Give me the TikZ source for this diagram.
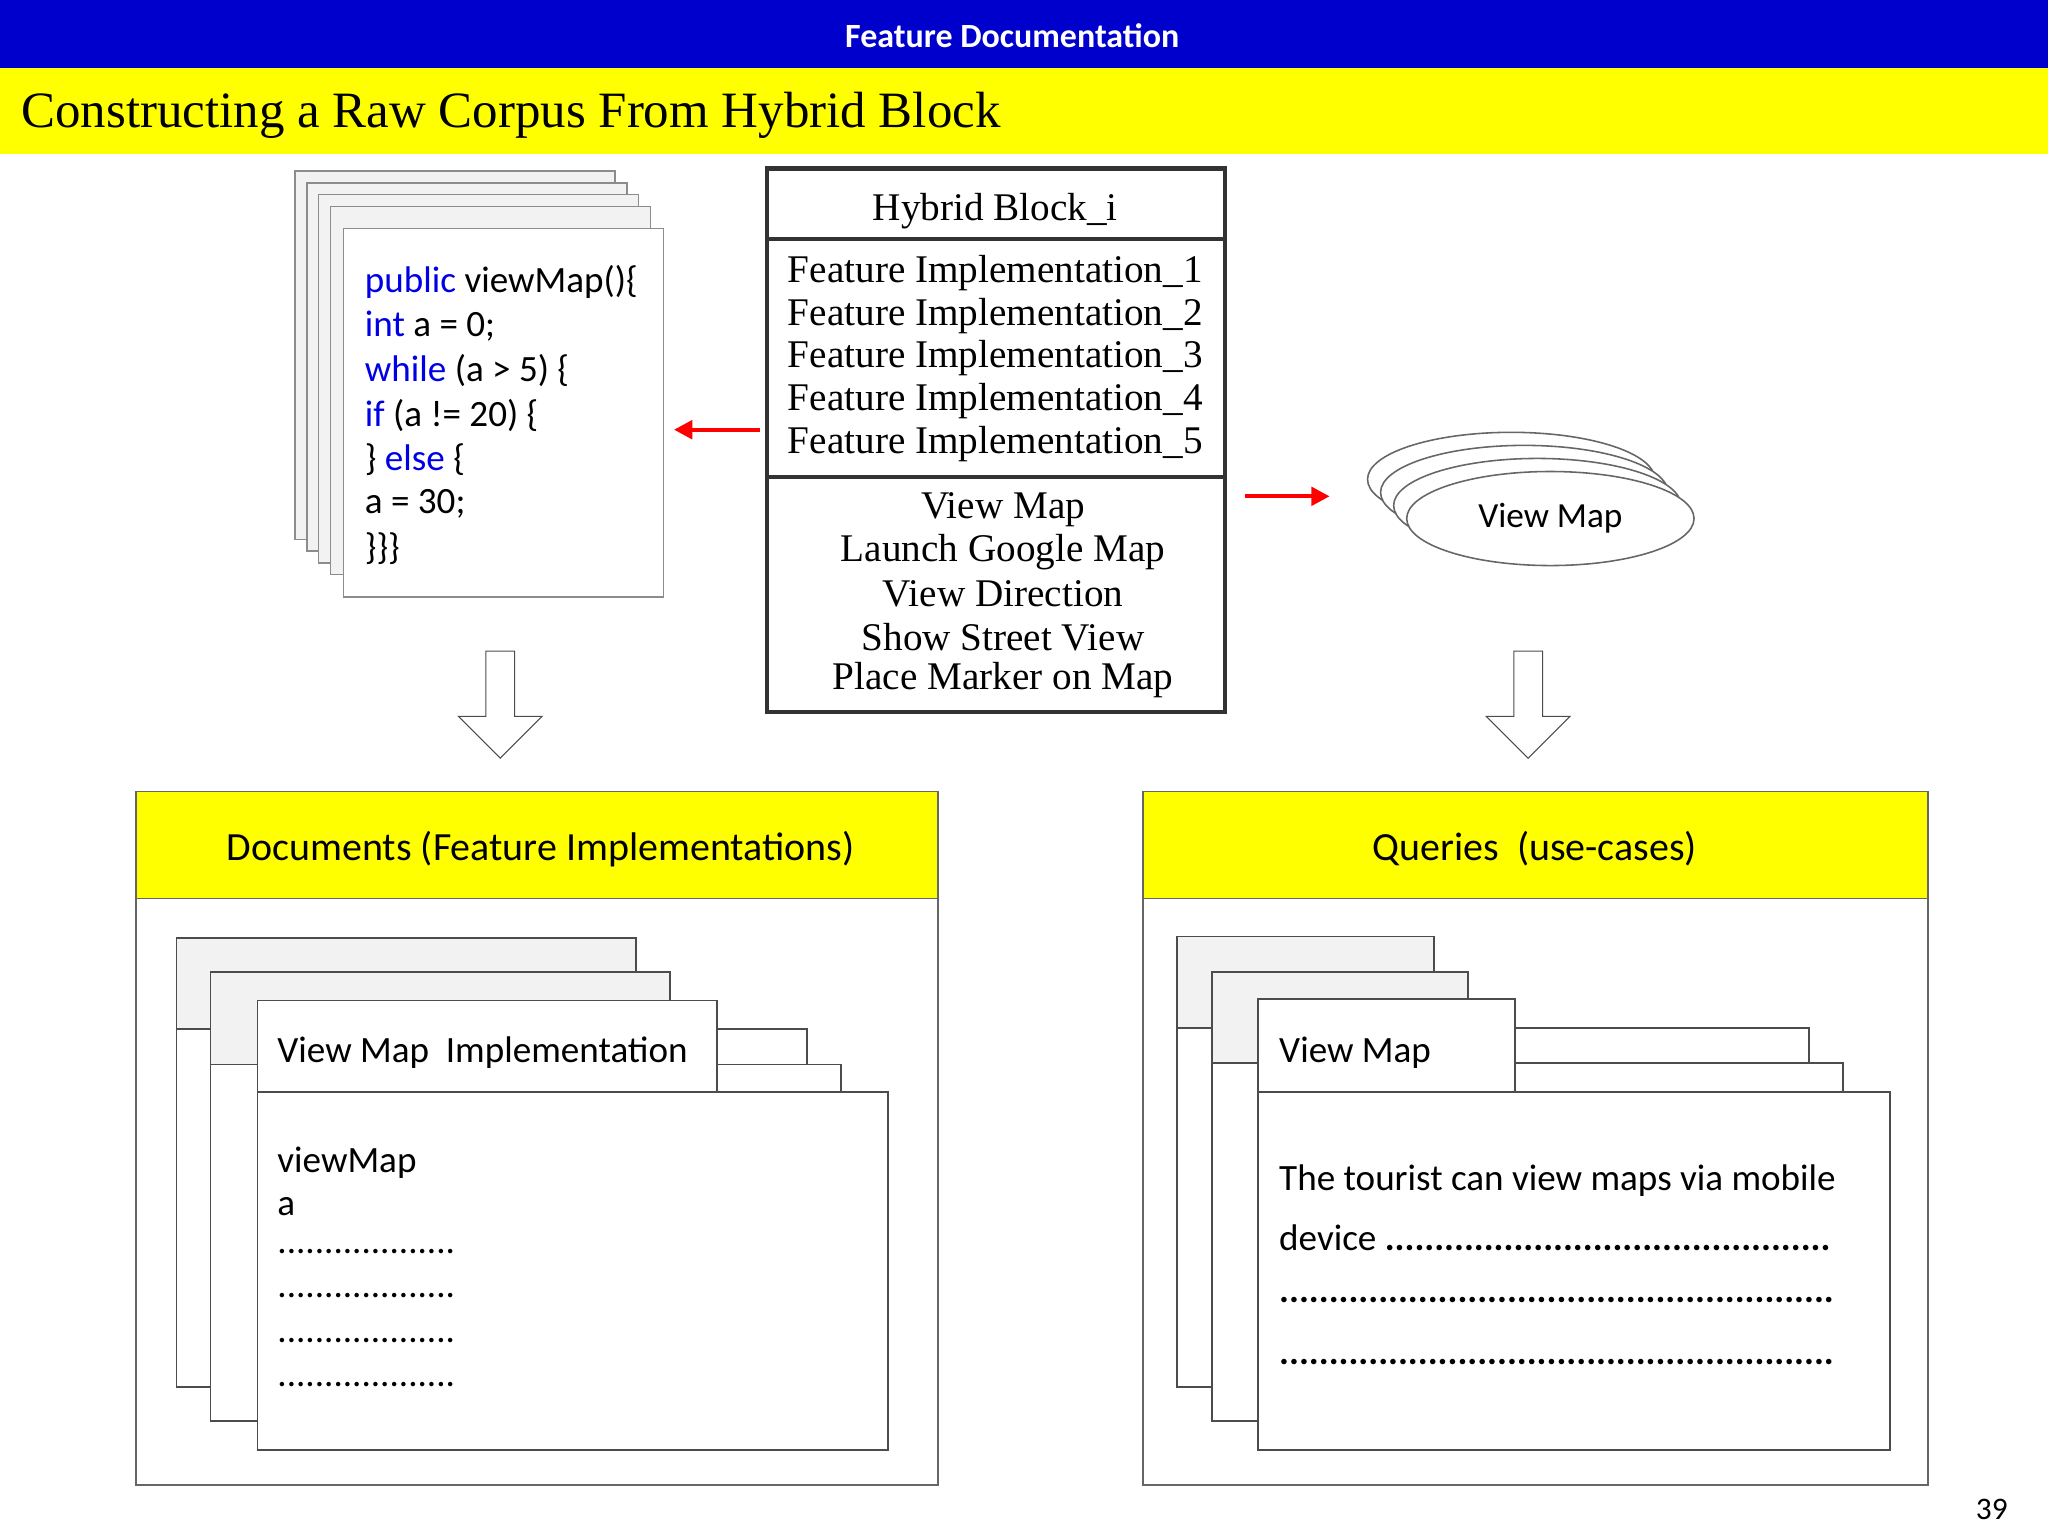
\documentclass[tikz,border=0pt]{standalone}
\usepackage{fontspec}
\setmainfont{Liberation Serif}
\newfontfamily\calf{Carlito}
\usetikzlibrary{arrows.meta,shapes.geometric,shapes.arrows}
\definecolor{bbar}{RGB}{0,0,204}
\definecolor{yelfill}{RGB}{255,255,0}
\definecolor{kw}{RGB}{0,0,230}
\definecolor{pg}{RGB}{242,242,242}
\tikzset{
 page/.style={draw=black!45,fill=pg,line width=0.6pt},
 card/.style={draw=black!70,fill=white,line width=0.6pt},
 tabg/.style={draw=black!70,fill=pg,line width=0.6pt},
 redarr/.style={draw=red,line width=1.6pt,-{Triangle[length=7pt,width=7pt]}},
 ctext/.style={anchor=west,inner sep=0pt,font=\calf\fontsize{14.2}{16}\selectfont},
 ftext/.style={inner sep=0pt,font=\fontsize{15}{17}\selectfont},
 hollow/.style={single arrow,draw=black!70,fill=white,shape border rotate=270,minimum height=41pt,minimum width=32pt,single arrow head extend=8pt,single arrow tip angle=90,inner sep=4pt},
}
\begin{document}
\begin{tikzpicture}[x=0.5pt,y=-0.5pt]
\useasboundingbox (0,0) rectangle (1568,1176);
\fill[bbar] (0,0) rectangle (1568,52);
\node[text=white,font=\calf\bfseries\fontsize{13}{15}\selectfont] (hd) at (775,27) {Feature Documentation};
\fill[yelfill] (0,52) rectangle (1568,118);
\node[anchor=west,inner sep=0pt,font=\fontsize{19.5}{22}\selectfont] (ttl) at (16,88) {Constructing a Raw Corpus From Hybrid Block};
% code pages
\foreach \d in {37,28,19,10}{\draw[page] (263-\d,175-\d-7) rectangle (508-\d,457-\d-7);}
\draw[draw=black!45,fill=white,line width=0.6pt] (263,175) rectangle (508,457);
\node[ctext] (c1) at (279,216) {\textcolor{kw}{public} viewMap()\{};
\node[ctext] (c2) at (279,250) {\textcolor{kw}{int} a = 0;};
\node[ctext] (c3) at (279,284) {\textcolor{kw}{while} (a > 5) \{};
\node[ctext] (c4) at (279,318) {\textcolor{kw}{if} (a != 20) \{};
\node[ctext] (c5) at (279,352) {\} \textcolor{kw}{else} \{};
\node[ctext] (c6) at (279,386) {a = 30;};
\node[ctext] (c7) at (279,420) {\}\}\}};
% hybrid block
\draw[line width=1.6pt,draw=black!80] (587,129) rectangle (938,545);
\draw[line width=1.6pt,draw=black!80] (587,183) -- (938,183) (587,365) -- (938,365);
\node[inner sep=0pt,font=\fontsize{15}{17}\selectfont] (hb) at (762,162) {Hybrid Block\_i};
\foreach \i/\y in {1/209,2/242,3/274,4/307,5/340}{\node[ftext] (f\i) at (762,\y) {Feature Implementation\_\i};}
\node[ftext] (u1) at (768,390) {View Map};
\node[ftext] (u2) at (768,423) {Launch Google Map};
\node[ftext] (u3) at (768,455) {View Direction};
\node[ftext] (u4) at (768,488) {Show Street View};
\node[ftext] (u5) at (768,521) {Place Marker on Map};
\coordinate (ra1) at (582,329); \coordinate (ra2) at (516,329);
\draw[redarr] (ra1) -- (ra2);
\coordinate (rb1) at (953,380); \coordinate (rb2) at (1018,380);
\draw[redarr] (rb1) -- (rb2);
% ellipses
\foreach \d in {30,20,10}{\draw[draw=black!60,fill=white,line width=0.6pt] (1187-\d,397-\d) ellipse [x radius=110,y radius=36];}
\draw[draw=black!60,fill=white,line width=0.6pt] (1187,397) ellipse [x radius=110,y radius=36];
\node[font=\calf\fontsize{13.5}{15}\selectfont] (em) at (1187,397) {View Map};
% hollow arrows
\node[hollow] (h1) at (383,534) {};
\node[hollow] (h2) at (1170,534) {};
% left panel
\fill[yelfill] (104,606) rectangle (718,688);
\draw[draw=black!60,line width=0.6pt] (104,606) rectangle (718,1137) (104,688) -- (718,688);
\node[font=\calf\fontsize{15.3}{17}\selectfont] (lh) at (414,650) {Documents (Feature Implementations)};
\draw[card] (135,788) rectangle (618,1062); \draw[tabg] (135,718) rectangle (487,788);
\draw[card] (161,815) rectangle (644,1088); \draw[tabg] (161,744) rectangle (513,815);
\draw[card] (197,836) rectangle (680,1110); \draw[card] (197,766) rectangle (549,836);
\node[ctext] (lt) at (212,806) {View Map\ \ Implementation};
\node[ctext] (l1) at (212,890) {viewMap};
\node[ctext] (l2) at (212,924) {a};
\foreach \y in {962,996,1030,1064}{\node[ctext] at (212,\y-4) {...................};}
% right panel
\fill[yelfill] (875,606) rectangle (1476,688);
\draw[draw=black!60,line width=0.6pt] (875,606) rectangle (1476,1137) (875,688) -- (1476,688);
\node[font=\calf\fontsize{15.3}{17}\selectfont] (rh) at (1175,650) {Queries\ \ (use-cases)};
\draw[card] (901,787) rectangle (1385,1062); \draw[tabg] (901,717) rectangle (1098,787);
\draw[card] (928,814) rectangle (1411,1088); \draw[tabg] (928,744) rectangle (1124,814);
\draw[card] (963,836) rectangle (1447,1110); \draw[card] (963,765) rectangle (1160,836);
\node[ctext] (rt) at (979,806) {View Map};
\node[ctext] (r1) at (979,904) {The tourist can view maps via mobile};
\node[ctext] (r2) at (979,948) {device \textbf{.............................................}};
\node[ctext] (r3) at (979,995) {\textbf{........................................................}};
\node[ctext] (r4) at (979,1043) {\textbf{........................................................}};
\node[font=\calf\fontsize{12}{14}\selectfont] (pn) at (1525,1156) {39};
\end{tikzpicture}
\end{document}
